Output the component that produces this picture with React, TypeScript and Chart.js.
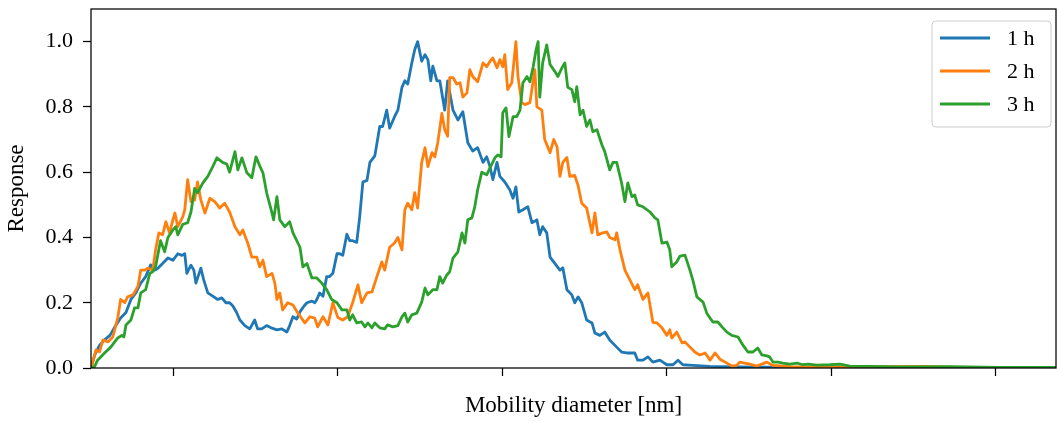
import React, { useEffect, useRef } from "react";
import { Chart, registerables } from "chart.js";

Chart.register(...registerables);

const seriesLabels = ["1 h", "2 h", "3 h"];
const seriesColors = ["#1f77b4", "#ff7f0e", "#2ca02c"];

const xTitle = "Mobility diameter [nm]";
const yTitle = "Response";
const xTickValues = [20, 60, 100, 140, 180, 220];
const yTickValues = [0, 0.2, 0.4, 0.6, 0.8, 1.0];
const xRange = [0, 234.6];
const yRange = [0, 1.1];

const blueX = [0,0.9,2.1,3.3,4.6,5.8,7.2,8.5,9.7,10.9,12.1,13.3,14.5,15.5,16.2,17.4,18.7,19.9,21.1,22.1,22.8,23.3,24.3,25.0,25.5,26.7,27.4,28.4,29.6,30.8,31.8,32.8,33.7,34.5,35.4,36.2,37.4,38.6,39.8,40.5,41.5,42.7,44.0,45.2,46.4,47.6,48.3,49.1,50.0,50.8,51.8,52.5,53.7,54.4,54.9,55.6,56.4,57.3,58.0,58.8,59.8,60.5,61.2,62.2,62.9,63.6,64.6,65.3,66.1,67.1,67.8,69.0,70.2,70.9,71.9,72.6,73.8,74.6,75.6,76.3,77.0,78.0,78.7,79.4,80.4,81.2,81.9,82.6,83.1,84.1,84.8,86.0,86.7,88.0,89.2,90.4,91.6,92.8,94.0,95.3,96.2,97.0,97.7,98.7,99.4,100.6,101.8,102.6,103.3,104.0,105.0,106.2,107.2,108.4,109.1,109.8,110.8,111.6,112.8,114.0,114.7,115.7,116.9,117.6,118.4,119.3,120.5,121.8,122.5,123.7,124.9,126.1,127.8,129.0,130.3,132.2,132.9,134.2,135.4,136.6,138.3,140.0,141.5,142.7,143.9,146.3,150.4,157.7,172.3,196.7,234.6];
const blueY = [0,0.04,0.07,0.086,0.1,0.126,0.153,0.17,0.21,0.23,0.26,0.28,0.316,0.3,0.305,0.32,0.337,0.33,0.35,0.345,0.35,0.29,0.315,0.3,0.26,0.306,0.27,0.23,0.22,0.21,0.215,0.2,0.2,0.19,0.17,0.147,0.13,0.12,0.147,0.12,0.12,0.13,0.122,0.117,0.12,0.11,0.13,0.157,0.15,0.172,0.19,0.2,0.205,0.2,0.21,0.23,0.22,0.28,0.28,0.29,0.35,0.35,0.345,0.41,0.39,0.39,0.385,0.46,0.57,0.575,0.63,0.65,0.74,0.74,0.79,0.735,0.77,0.79,0.86,0.88,0.87,0.935,0.975,1.0,0.94,0.96,0.945,0.88,0.925,0.88,0.88,0.79,0.88,0.79,0.76,0.785,0.69,0.665,0.675,0.63,0.647,0.617,0.577,0.63,0.587,0.57,0.546,0.52,0.555,0.478,0.485,0.494,0.445,0.454,0.408,0.433,0.414,0.34,0.32,0.30,0.307,0.24,0.224,0.2,0.218,0.2,0.147,0.138,0.107,0.1,0.11,0.086,0.064,0.049,0.046,0.046,0.024,0.024,0.034,0.018,0.024,0.01,0.01,0.024,0.01,0.008,0.005,0.003,0.002,0.002,0.001];

const orangeX = [0,0.7,1.2,2.1,2.9,4.1,5.3,6.5,7.2,8.2,8.9,10.2,11.4,12.1,13.1,13.8,15.0,15.7,16.5,17.4,18.2,19.1,19.9,20.4,21.1,22.3,22.8,23.5,24.3,25.2,25.9,26.7,27.7,28.9,30.1,31.3,32.5,33.7,35.0,36.2,36.9,38.1,39.1,40.3,41.0,41.8,42.7,44.0,44.7,45.2,45.9,46.6,47.8,49.1,50.3,52.0,53.2,54.4,55.1,56.4,57.6,58.8,60.0,61.2,62.4,63.6,64.9,65.8,67.1,68.3,69.5,70.7,71.4,72.6,73.8,74.6,75.6,76.3,77.0,78.0,78.7,79.4,80.4,81.2,81.9,82.9,83.6,84.3,85.3,86.0,86.7,87.2,88.0,88.9,89.7,90.4,91.4,92.1,92.8,94.0,95.3,96.2,97.0,97.7,98.7,99.4,100.1,100.6,101.3,102.3,103.3,103.8,104.7,105.5,106.7,107.9,108.4,109.6,110.3,111.6,112.5,113.3,114.0,114.7,115.7,116.4,117.6,118.4,119.3,120.5,121.8,122.5,123.2,124.4,125.4,126.1,127.4,127.8,128.6,129.8,131.0,132.2,132.9,134.2,135.4,136.6,137.6,138.8,140.0,140.7,141.2,142.4,143.7,144.4,145.6,146.8,148.0,149.3,150.5,151.7,152.9,154.6,155.8,157.0,157.7,158.9,160.2,161.9,164.3,165.8,169.9,184.5,202.7,211.3,234.6];
const orangeY = [0,0.03,0.055,0.05,0.086,0.08,0.095,0.153,0.21,0.2,0.218,0.224,0.25,0.30,0.3,0.306,0.3,0.362,0.414,0.408,0.448,0.414,0.454,0.475,0.433,0.463,0.485,0.577,0.51,0.515,0.57,0.515,0.475,0.52,0.51,0.49,0.505,0.478,0.433,0.408,0.423,0.383,0.34,0.34,0.31,0.33,0.28,0.29,0.26,0.21,0.23,0.178,0.2,0.193,0.168,0.138,0.157,0.153,0.126,0.157,0.132,0.2,0.155,0.147,0.157,0.2,0.255,0.2,0.23,0.233,0.28,0.325,0.3,0.37,0.383,0.40,0.362,0.485,0.505,0.485,0.537,0.49,0.63,0.675,0.617,0.66,0.647,0.69,0.78,0.73,0.71,0.89,0.89,0.87,0.874,0.83,0.843,0.914,0.893,0.877,0.935,0.923,0.94,0.95,0.92,0.945,0.923,0.96,0.853,0.874,1.0,0.893,0.813,0.807,0.813,0.914,0.8,0.79,0.70,0.66,0.70,0.678,0.587,0.63,0.645,0.587,0.59,0.56,0.505,0.49,0.414,0.475,0.408,0.414,0.417,0.4,0.393,0.414,0.362,0.30,0.27,0.24,0.255,0.21,0.23,0.14,0.138,0.123,0.1,0.117,0.092,0.11,0.077,0.08,0.064,0.049,0.04,0.046,0.024,0.046,0.027,0.015,0.006,0.008,0.018,0.015,0.012,0.006,0.018,0.008,0.004,0.003,0.005,0.002,0.001];

const greenX = [0,0.9,1.6,3.3,4.8,6.5,7.5,8.0,8.5,9.7,10.6,11.4,12.1,13.3,14.3,15.0,15.7,16.9,17.9,18.7,19.9,20.6,21.1,22.3,23.5,24.3,25.2,25.9,27.2,28.4,29.6,30.6,32.0,33.0,33.7,35.0,35.7,36.7,37.9,39.1,40.1,41.0,41.8,42.7,44.0,44.4,45.2,45.9,47.1,48.3,49.1,50.8,51.5,52.5,53.7,54.9,56.1,57.3,58.5,59.8,61.0,62.2,62.9,63.6,64.6,65.8,66.6,67.3,68.3,69.0,70.2,71.4,72.1,73.4,74.6,75.6,76.3,77.0,78.0,79.2,80.4,81.2,81.9,83.1,84.1,84.8,85.5,86.5,87.2,88.0,89.2,90.2,90.9,91.6,92.6,93.3,94.0,95.0,96.2,97.0,98.2,98.9,99.7,100.1,100.9,101.6,102.6,103.5,104.3,105.0,106.0,106.7,107.5,108.2,108.7,109.1,109.8,110.8,111.6,112.8,113.5,114.5,115.2,115.9,116.9,117.6,118.1,118.9,119.6,120.5,121.3,122.0,123.0,124.2,124.9,126.1,126.9,127.8,129.0,129.8,130.5,131.5,132.2,132.9,134.2,135.9,137.1,137.8,138.8,140.0,140.7,141.2,142.4,143.2,144.4,145.6,146.3,147.3,148.0,148.8,149.7,150.5,151.2,152.4,153.4,154.6,155.8,157.3,158.5,159.7,160.9,162.1,163.1,164.3,165.0,165.8,167.0,168.2,169.9,171.6,173.1,174.3,176.5,179.6,182.1,184.5,189.4,196.7,208.9,221.0,234.6];
const greenY = [0,0.005,0.024,0.046,0.064,0.092,0.1,0.095,0.132,0.147,0.184,0.184,0.23,0.24,0.29,0.295,0.31,0.39,0.356,0.40,0.423,0.433,0.408,0.44,0.445,0.478,0.55,0.537,0.567,0.587,0.617,0.644,0.63,0.625,0.60,0.663,0.607,0.644,0.598,0.583,0.647,0.62,0.598,0.537,0.475,0.454,0.525,0.454,0.433,0.448,0.414,0.37,0.31,0.32,0.276,0.276,0.26,0.24,0.21,0.2,0.178,0.178,0.147,0.163,0.138,0.141,0.126,0.138,0.123,0.138,0.123,0.12,0.132,0.126,0.13,0.157,0.168,0.141,0.163,0.168,0.202,0.245,0.224,0.24,0.24,0.28,0.26,0.285,0.295,0.337,0.356,0.414,0.383,0.454,0.46,0.494,0.546,0.60,0.592,0.613,0.644,0.653,0.647,0.782,0.797,0.709,0.77,0.77,0.79,0.874,0.893,0.877,0.923,0.975,1.0,0.83,0.935,0.99,0.93,0.908,0.893,0.92,0.935,0.86,0.853,0.816,0.862,0.776,0.79,0.74,0.76,0.724,0.73,0.684,0.663,0.607,0.63,0.63,0.567,0.51,0.567,0.525,0.53,0.5,0.494,0.478,0.46,0.454,0.383,0.386,0.362,0.31,0.325,0.343,0.346,0.30,0.27,0.218,0.21,0.202,0.168,0.153,0.141,0.141,0.126,0.11,0.1,0.095,0.07,0.049,0.049,0.061,0.04,0.037,0.034,0.018,0.018,0.015,0.012,0.015,0.01,0.012,0.009,0.01,0.012,0.006,0.005,0.003,0.004,0.002,0.002];

const seriesX = [blueX, orangeX, greenX];
const seriesY = [blueY, orangeY, greenY];

const FONT = "'Liberation Serif', 'Times New Roman', serif";
const LINE_W = 2.8;

const spinesPlugin = {
  id: "spines",
  afterDatasetsDraw(chart: any) {
    const { ctx, chartArea } = chart;
    const { left, top, right, bottom } = chartArea;
    ctx.save();
    ctx.strokeStyle = "#000";
    ctx.lineWidth = 1.25;
    ctx.strokeRect(left, top, right - left, bottom - top);
    ctx.restore();
  },
};

const legendPlugin = {
  id: "mplLegend",
  afterDraw(chart: any) {
    const { ctx, chartArea } = chart;
    const boxRight = chartArea.right - 5;
    const boxTop = chartArea.top + 12;
    const boxW = 119;
    const boxH = 106;
    const boxLeft = boxRight - boxW;
    const r = 4;
    ctx.save();
    ctx.beginPath();
    ctx.moveTo(boxLeft + r, boxTop);
    ctx.lineTo(boxRight - r, boxTop);
    ctx.quadraticCurveTo(boxRight, boxTop, boxRight, boxTop + r);
    ctx.lineTo(boxRight, boxTop + boxH - r);
    ctx.quadraticCurveTo(boxRight, boxTop + boxH, boxRight - r, boxTop + boxH);
    ctx.lineTo(boxLeft + r, boxTop + boxH);
    ctx.quadraticCurveTo(boxLeft, boxTop + boxH, boxLeft, boxTop + boxH - r);
    ctx.lineTo(boxLeft, boxTop + r);
    ctx.quadraticCurveTo(boxLeft, boxTop, boxLeft + r, boxTop);
    ctx.closePath();
    ctx.fillStyle = "rgba(255,255,255,0.8)";
    ctx.fill();
    ctx.strokeStyle = "#cccccc";
    ctx.lineWidth = 1;
    ctx.stroke();
    chart.data.datasets.forEach((ds: any, i: number) => {
      const y = boxTop + 17 + i * 33;
      ctx.beginPath();
      ctx.moveTo(boxLeft + 8, y);
      ctx.lineTo(boxLeft + 58, y);
      ctx.strokeStyle = ds.borderColor;
      ctx.lineWidth = LINE_W;
      ctx.stroke();
      ctx.fillStyle = "#000";
      ctx.font = `22px ${FONT}`;
      ctx.textAlign = "left";
      ctx.textBaseline = "middle";
      ctx.fillText(ds.label, boxLeft + 75, y + 1);
    });
    ctx.restore();
  },
};

export default function App() {
  const canvasRef = useRef<HTMLCanvasElement | null>(null);

  useEffect(() => {
    const canvas = canvasRef.current;
    if (!canvas) return;
    const datasets = seriesLabels.map((label, i) => ({
      label,
      data: seriesX[i].map((x, j) => ({ x, y: seriesY[i][j] })),
      borderColor: seriesColors[i],
      backgroundColor: seriesColors[i],
      borderWidth: LINE_W,
      pointRadius: 0,
      tension: 0,
      fill: false,
      borderJoinStyle: "round" as const,
      order: 2 - i,
      clip: 0,
    }));
    const chart = new Chart(canvas, {
      type: "line",
      data: { datasets },
      plugins: [spinesPlugin, legendPlugin],
      options: {
        animation: false,
        responsive: false,
        devicePixelRatio: 1,
        layout: { padding: { top: 9, right: 1, left: 0, bottom: 0 } },
        plugins: {
          legend: { display: false },
          tooltip: { enabled: false },
        },
        scales: {
          x: {
            type: "linear",
            min: xRange[0],
            max: xRange[1],
            afterBuildTicks: (scale: any) => {
              scale.ticks = xTickValues.map((v) => ({ value: v }));
            },
            afterFit: (scale: any) => {
              scale.height = 53;
              scale.paddingLeft = 0;
              scale.paddingRight = 0;
            },
            ticks: { display: false },
            grid: {
              drawOnChartArea: false,
              drawTicks: true,
              tickLength: 8,
              tickColor: "#000",
              tickWidth: 1.25,
            },
            border: { display: false },
            title: {
              display: true,
              text: xTitle,
              color: "#000",
              font: { family: FONT, size: 23 },
              padding: { top: 0, bottom: 1 },
            },
          },
          y: {
            type: "linear",
            min: yRange[0],
            max: yRange[1],
            afterBuildTicks: (scale: any) => {
              scale.ticks = yTickValues.map((v) => ({ value: v }));
            },
            afterFit: (scale: any) => {
              scale.width = 91;
              scale.paddingTop = 0;
              scale.paddingBottom = 0;
            },
            ticks: {
              color: "#000",
              padding: 10,
              font: { family: FONT, size: 22 },
              callback: (v: any) => Number(v).toFixed(1),
            },
            grid: {
              drawOnChartArea: false,
              drawTicks: true,
              tickLength: 8,
              tickColor: "#000",
              tickWidth: 1.25,
            },
            border: { display: false },
            title: {
              display: true,
              text: yTitle,
              color: "#000",
              font: { family: FONT, size: 23 },
              padding: { top: 3, bottom: 0 },
            },
          },
        },
      } as any,
    });
    return () => chart.destroy();
  }, []);

  return (
    <div style={{ position: "absolute", left: 0, top: 0, width: 1057, height: 421, background: "#fff" }}>
      <canvas ref={canvasRef} width={1057} height={421} />
    </div>
  );
}
